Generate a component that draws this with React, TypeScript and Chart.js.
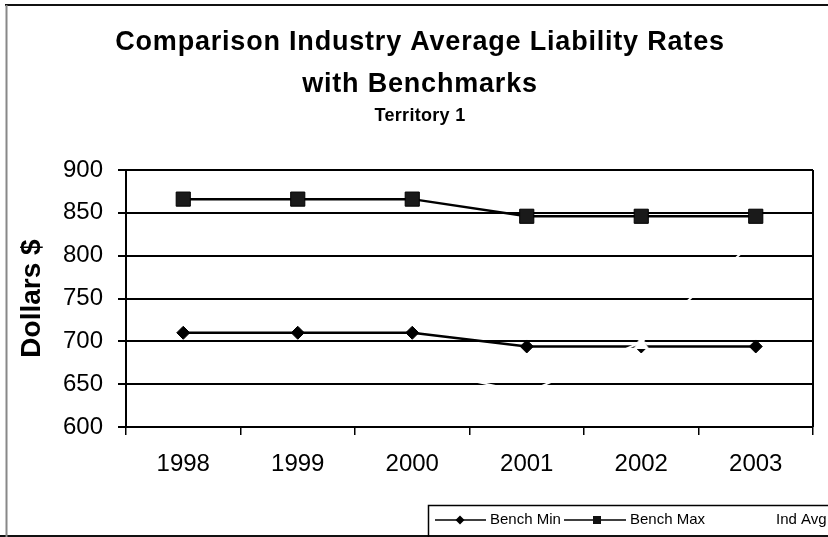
import React, { useEffect, useRef } from 'react';
import { Chart, registerables } from 'chart.js';

Chart.register(...registerables);

const years = ['1998', '1999', '2000', '2001', '2002', '2003'];
const benchMin = [710, 710, 710, 694, 694, 694];
const benchMax = [866, 866, 866, 846, 846, 846];
const indAvg = [668, 672, 669, 640, 699, 818];
const seriesNames = ['Bench Min', 'Bench Max', 'Ind Avg'];
const titleLines = ['Comparison Industry Average Liability Rates', 'with Benchmarks'];
const subTitle = 'Territory 1';
const yAxisTitle = 'Dollars $';
const yMin = 600;
const yMax = 900;
const yStep = 50;

const FONT = '"Liberation Sans", Arial, sans-serif';

function makeTriangle(): HTMLCanvasElement {
  const c = document.createElement('canvas');
  c.width = 16;
  c.height = 14;
  const g = c.getContext('2d')!;
  g.fillStyle = '#fff';
  g.beginPath();
  g.moveTo(8, 0);
  g.lineTo(16, 14);
  g.lineTo(0, 14);
  g.closePath();
  g.fill();
  return c;
}

const framePlugin = {
  id: 'frame',
  beforeDraw(chart: any) {
    const ctx = chart.ctx;
    ctx.save();
    ctx.fillStyle = '#fff';
    ctx.fillRect(0, 0, chart.width, chart.height);
    ctx.strokeStyle = '#111';
    ctx.lineWidth = 2;
    ctx.beginPath();
    ctx.moveTo(5, 5);
    ctx.lineTo(chart.width, 5);
    ctx.stroke();
    ctx.beginPath();
    ctx.moveTo(0, 536);
    ctx.lineTo(chart.width, 536);
    ctx.stroke();
    ctx.strokeStyle = '#888';
    ctx.beginPath();
    ctx.moveTo(6.5, 5);
    ctx.lineTo(6.5, chart.height);
    ctx.stroke();
    ctx.restore();
  },
  afterDraw(chart: any) {
    const ctx = chart.ctx;
    const a = chart.chartArea;
    ctx.save();
    ctx.strokeStyle = '#000';
    ctx.lineWidth = 2;
    ctx.beginPath();
    ctx.moveTo(a.right, a.top);
    ctx.lineTo(a.right, a.bottom);
    ctx.stroke();

    ctx.fillStyle = '#000';
    ctx.textAlign = 'center';
    ctx.textBaseline = 'alphabetic';
    ctx.font = `bold 27px ${FONT}`;
    (ctx as any).letterSpacing = '0.8px';
    ctx.fillText(titleLines[0], 420, 50);
    ctx.fillText(titleLines[1], 420, 92);
    ctx.font = `bold 18px ${FONT}`;
    (ctx as any).letterSpacing = '0.3px';
    ctx.fillText(subTitle, 420, 121);
    (ctx as any).letterSpacing = '0px';

    ctx.strokeStyle = '#000';
    ctx.lineWidth = 1.5;
    ctx.strokeRect(428.5, 505.5, 500, 100);
    const ly = 520;
    ctx.font = `15px ${FONT}`;
    ctx.textAlign = 'left';
    ctx.textBaseline = 'middle';
    ctx.beginPath();
    ctx.moveTo(435, ly);
    ctx.lineTo(486, ly);
    ctx.stroke();
    ctx.fillStyle = '#000';
    ctx.beginPath();
    ctx.moveTo(460, ly - 4.5);
    ctx.lineTo(464.5, ly);
    ctx.lineTo(460, ly + 4.5);
    ctx.lineTo(455.5, ly);
    ctx.closePath();
    ctx.fill();
    ctx.fillText(seriesNames[0], 490, ly);
    ctx.beginPath();
    ctx.moveTo(564, ly);
    ctx.lineTo(626, ly);
    ctx.stroke();
    ctx.fillStyle = '#111';
    ctx.fillRect(593, ly - 4, 8, 8);
    ctx.fillStyle = '#000';
    ctx.fillText(seriesNames[1], 630, ly);
    ctx.fillText(seriesNames[2], 776, ly);
    ctx.restore();
  },
};

export default function App() {
  const ref = useRef<HTMLCanvasElement>(null);
  useEffect(() => {
    if (!ref.current) return;
    const tri = makeTriangle();
    const chart = new Chart(ref.current, {
      type: 'line',
      data: {
        labels: years,
        datasets: [
          {
            label: seriesNames[0],
            data: benchMin,
            borderColor: '#000',
            backgroundColor: '#000',
            borderWidth: 2.5,
            pointStyle: 'rectRot',
            pointRadius: 6.5,
            pointBorderWidth: 1,
            pointBackgroundColor: '#000',
            pointBorderColor: '#000',
            order: 1,
          },
          {
            label: seriesNames[1],
            data: benchMax,
            borderColor: '#000',
            backgroundColor: '#111',
            borderWidth: 2.5,
            pointStyle: 'rect',
            pointRadius: 10,
            pointBorderWidth: 1,
            pointBackgroundColor: '#1a1a1a',
            pointBorderColor: '#000',
            order: 2,
          },
          {
            label: seriesNames[2],
            data: indAvg,
            borderColor: '#fff',
            backgroundColor: '#fff',
            borderWidth: 2,
            pointStyle: tri as any,
            pointRadius: 7,
            order: 0,
          },
        ],
      },
      options: {
        responsive: false,
        animation: false,
        events: [],
        layout: { padding: { left: 0, top: 170, right: 15, bottom: 0 } },
        plugins: {
          legend: { display: false },
          title: { display: false },
          tooltip: { enabled: false },
        },
        scales: {
          x: {
            offset: true,
            afterFit: (s: any) => {
              s.height = 110;
            },
            grid: {
              offset: true,
              drawOnChartArea: false,
              drawTicks: true,
              tickLength: 8,
              color: '#000',
              lineWidth: 1.5,
            },
            border: { display: true, color: '#000', width: 2 },
            ticks: {
              color: '#000',
              font: { family: FONT, size: 24 },
              padding: 15,
              maxRotation: 0,
            },
          },
          y: {
            min: yMin,
            max: yMax,
            afterFit: (s: any) => {
              s.width = 126;
            },
            ticks: {
              stepSize: yStep,
              color: '#000',
              font: { family: FONT, size: 24 },
              padding: 15,
            },
            grid: {
              color: '#000',
              lineWidth: 2,
              drawTicks: true,
              tickLength: 8,
            },
            border: { display: true, color: '#000', width: 2 },
            title: {
              display: true,
              text: yAxisTitle,
              color: '#000',
              font: { family: FONT, size: 28, weight: 'bold' },
              padding: { top: 15, bottom: 0 },
            },
          },
        },
      },
      plugins: [framePlugin],
    });
    return () => chart.destroy();
  }, []);
  return (
    <div style={{ position: 'absolute', left: 0, top: 0, width: 828, height: 537 }}>
      <canvas ref={ref} width={828} height={537} style={{ display: 'block' }} />
    </div>
  );
}
